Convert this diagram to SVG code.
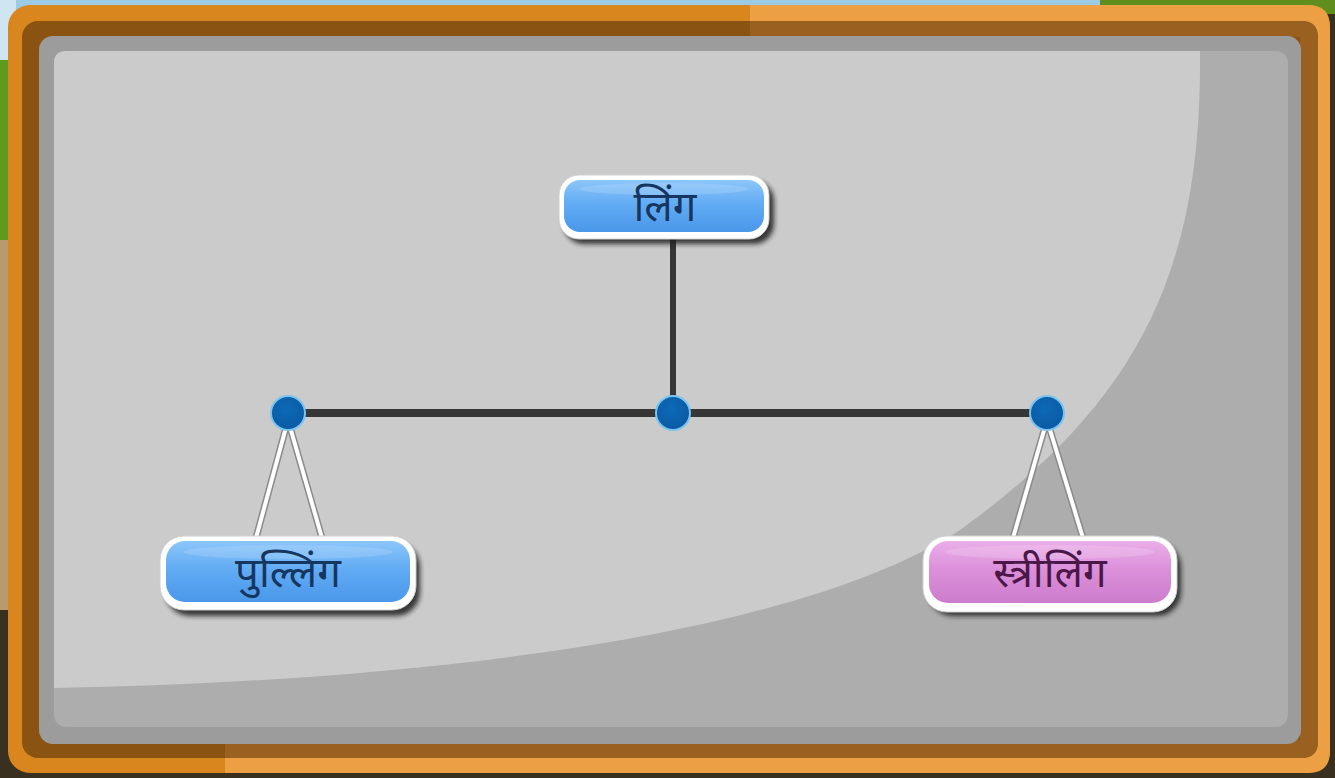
<svg xmlns="http://www.w3.org/2000/svg" width="1335" height="778" viewBox="0 0 1335 778">
<defs>
<linearGradient id="blueG" x1="0" y1="0" x2="0" y2="1">
<stop offset="0" stop-color="#8cc6fa"/><stop offset="0.45" stop-color="#62acf4"/><stop offset="1" stop-color="#4a97ea"/>
</linearGradient>
<linearGradient id="pinkG" x1="0" y1="0" x2="0" y2="1">
<stop offset="0" stop-color="#eaaee8"/><stop offset="0.45" stop-color="#dc90da"/><stop offset="1" stop-color="#cc7ccc"/>
</linearGradient>
<filter id="sh" x="-10%" y="-20%" width="120%" height="150%"><feGaussianBlur stdDeviation="2.5"/></filter>
<radialGradient id="dotG" cx="0.45" cy="0.4" r="0.6">
<stop offset="0" stop-color="#0d6ab8"/><stop offset="1" stop-color="#0a5aa2"/>
</radialGradient>
<style>
.lbl{font-family:"Noto Sans Devanagari","Noto Serif Devanagari","Lohit Devanagari","FreeSerif","Mangal",serif;font-size:42px;text-anchor:middle;dominant-baseline:central}
.bar{stroke:#363636;stroke-linecap:round;fill:none}
.hangO{stroke:#8a8a8a;stroke-width:7;stroke-linecap:round;fill:none}
.hangI{stroke:#ffffff;stroke-width:4;stroke-linecap:round;fill:none}
.dot{fill:url(#dotG);stroke:#7cc4f0;stroke-width:2}
.shadow{fill:#1a1a1a;filter:url(#sh);opacity:0.85}
.rim{fill:#ffffff;stroke:#d0d0d0;stroke-width:1}
</style>
</defs>

<!-- background outside frame -->
<rect x="0" y="0" width="1335" height="778" fill="#3a3020"/>
<rect x="0" y="0" width="1335" height="14" fill="#9ccbe6"/>
<rect x="1100" y="0" width="235" height="14" fill="#5f8e1e"/>
<rect x="0" y="0" width="16" height="60" fill="#cfe6f2"/>
<rect x="0" y="60" width="16" height="180" fill="#5f9a20"/>
<rect x="0" y="240" width="16" height="370" fill="#b89a70"/>

<!-- frame -->
<g id="frame">
<rect x="8" y="5" width="1322" height="768" rx="22" fill="#d9861f"/>
<path d="M750 5 H1308 Q1330 5 1330 27 V751 Q1330 773 1308 773 H225 V740 H1300 V35 H750 Z" fill="#eca043"/>
<rect x="22" y="21" width="1296" height="737" rx="16" fill="#8a5312"/>
<path d="M750 21 H1302 Q1318 21 1318 37 V742 Q1318 758 1302 758 H225 V740 H1300 V37 H750 Z" fill="#9a6020"/>
<rect x="39" y="36" width="1262" height="708" rx="14" fill="#9c9c9c"/>
<rect x="54" y="51" width="1234" height="676" rx="12" fill="#adadad"/>
<path d="M66 51 H1200 C1202 270 1140 400 960 530 C790 640 400 682 54 688 V63 Q54 51 66 51 Z" fill="#cbcbcb"/>
</g>

<!-- connectors -->
<g id="connectors">
<line class="bar" x1="673" y1="238" x2="673" y2="413" stroke-width="6"/>
<line class="bar" x1="288" y1="413" x2="1046" y2="413" stroke-width="8"/>
<path class="hangO" d="M256 538 L288 420 L322 538"/>
<path class="hangI" d="M256 538 L288 420 L322 538"/>
<path class="hangO" d="M1013 538 L1047 420 L1083 538"/>
<path class="hangI" d="M1013 538 L1047 420 L1083 538"/>
<circle class="dot" cx="288" cy="413" r="17"/>
<circle class="dot" cx="673" cy="413" r="17"/>
<circle class="dot" cx="1047" cy="413" r="17"/>
</g>

<!-- root node -->
<g id="node-ling">
<rect class="shadow" x="564" y="181" width="210" height="63" rx="20"/>
<rect class="rim" x="559" y="175" width="210" height="64" rx="20"/>
<rect x="564" y="180" width="200" height="52" rx="16" fill="url(#blueG)"/>
<ellipse cx="664" cy="189" rx="85" ry="6" fill="#ffffff" opacity="0.14"/>
<text class="lbl" x="665" y="210" fill="#17365f">लिंग</text>
</g>

<!-- masculine node -->
<g id="node-pulling">
<rect class="shadow" x="166" y="543" width="254" height="73" rx="24"/>
<rect class="rim" x="160" y="536" width="256" height="74" rx="24"/>
<rect x="166" y="541" width="244" height="61" rx="19" fill="url(#blueG)"/>
<ellipse cx="288" cy="552" rx="105" ry="7" fill="#ffffff" opacity="0.14"/>
<text class="lbl" x="288" y="576" fill="#17365f">पुल्लिंग</text>
</g>

<!-- feminine node -->
<g id="node-striling">
<rect class="shadow" x="929" y="543" width="252" height="73" rx="24"/>
<rect class="rim" x="923" y="536" width="254" height="76" rx="24"/>
<rect x="929" y="541" width="242" height="62" rx="19" fill="url(#pinkG)"/>
<ellipse cx="1050" cy="552" rx="105" ry="7" fill="#ffffff" opacity="0.16"/>
<text class="lbl" x="1050" y="576" fill="#4a1748">स्त्रीलिंग</text>
</g>
</svg>
